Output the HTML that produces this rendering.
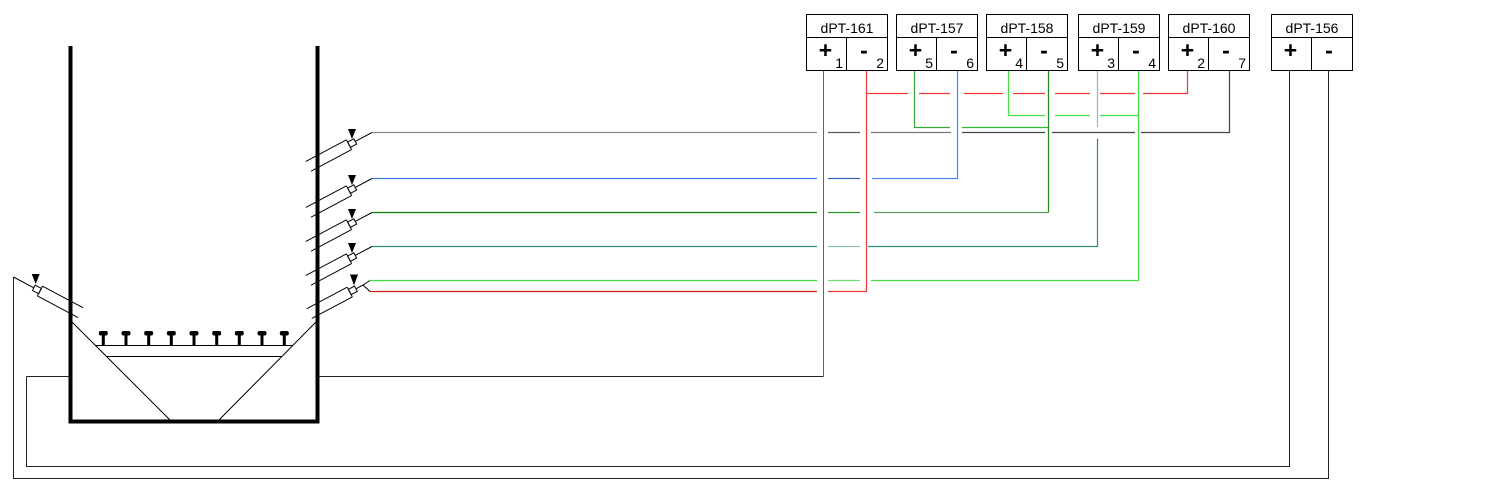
<!DOCTYPE html>
<html><head><meta charset="utf-8"><style>
html,body{margin:0;padding:0;background:#fff;}
svg{display:block;}
text{font-family:"Liberation Sans",Arial,sans-serif;fill:#000;}
</style></head><body>
<svg width="1508" height="501" viewBox="0 0 1508 501" xmlns="http://www.w3.org/2000/svg">
<defs>
 <g id="rs" stroke="#000" stroke-width="1" fill="none">
  <line x1="0" y1="0" x2="19" y2="0"/>
  <rect x="19" y="-3" width="7" height="6" fill="#fff"/>
  <line x1="26" y1="-5.5" x2="26" y2="5.5"/>
  <line x1="26" y1="5.5" x2="72" y2="5.5"/>
  <line x1="26" y1="-5.5" x2="72" y2="-5.5"/>
 </g>
 <g id="ls" stroke="#000" stroke-width="1" fill="none">
  <line x1="0" y1="0" x2="23" y2="0"/>
  <rect x="23" y="-3" width="7" height="6" fill="#fff"/>
  <line x1="30" y1="-5.5" x2="30" y2="5.5"/>
  <line x1="30" y1="5.5" x2="76" y2="5.5"/>
  <line x1="30" y1="-5.5" x2="76" y2="-5.5"/>
 </g>
 <g id="s5" stroke="#000" stroke-width="1" fill="none">
  <line x1="0" y1="0" x2="8" y2="0"/>
  <rect x="8" y="-3" width="7" height="6" fill="#fff"/>
  <line x1="15" y1="-5.5" x2="15" y2="5.5"/>
  <line x1="15" y1="5.5" x2="61" y2="5.5"/>
  <line x1="15" y1="-5.5" x2="61" y2="-5.5"/>
 </g>
</defs>

<!-- vessel -->
<rect x="68.5" y="46" width="4" height="377" fill="#000"/>
<rect x="315.5" y="46" width="4" height="377" fill="#000"/>
<rect x="68.5" y="419.5" width="251" height="4" fill="#000"/>
<g stroke="#000" stroke-width="1" fill="none">
 <line x1="72" y1="322" x2="171" y2="421"/>
 <line x1="316" y1="322" x2="218" y2="421"/>
 <line x1="96" y1="345.5" x2="293" y2="345.5"/>
 <line x1="106" y1="356.5" x2="282" y2="356.5"/>
</g>
<!-- nozzles -->
<g fill="#000">
 <rect x="98.8" y="331" width="9" height="4.5" rx="2"/><rect x="101.8" y="334" width="3" height="12"/>
 <rect x="121.5" y="331" width="9" height="4.5" rx="2"/><rect x="124.5" y="334" width="3" height="12"/>
 <rect x="144.2" y="331" width="9" height="4.5" rx="2"/><rect x="147.2" y="334" width="3" height="12"/>
 <rect x="166.8" y="331" width="9" height="4.5" rx="2"/><rect x="169.8" y="334" width="3" height="12"/>
 <rect x="189.5" y="331" width="9" height="4.5" rx="2"/><rect x="192.5" y="334" width="3" height="12"/>
 <rect x="212.2" y="331" width="9" height="4.5" rx="2"/><rect x="215.2" y="334" width="3" height="12"/>
 <rect x="234.8" y="331" width="9" height="4.5" rx="2"/><rect x="237.8" y="334" width="3" height="12"/>
 <rect x="257.5" y="331" width="9" height="4.5" rx="2"/><rect x="260.5" y="334" width="3" height="12"/>
 <rect x="279.8" y="331" width="9" height="4.5" rx="2"/><rect x="282.8" y="334" width="3" height="12"/>
</g>

<!-- sensors -->
<use href="#rs" transform="translate(372,132.5) rotate(152)"/>
<use href="#rs" transform="translate(372,178.5) rotate(152)"/>
<use href="#rs" transform="translate(372,212.5) rotate(152)"/>
<use href="#rs" transform="translate(372,246.5) rotate(152)"/>
<use href="#s5" transform="translate(363,285) rotate(152)"/>
<use href="#ls" transform="translate(13.5,277) rotate(28) scale(1,-1)"/>
<g stroke="#000" stroke-width="1">
 <line x1="363" y1="285" x2="370" y2="280.5"/>
 <line x1="363" y1="285" x2="370" y2="291.5"/>
</g>
<g fill="#000">
 <polygon points="348,129 356,129 352,139"/>
 <polygon points="348,175 356,175 352,185"/>
 <polygon points="348,209 356,209 352,219"/>
 <polygon points="348,243 356,243 352,253"/>
 <polygon points="350,274.5 358,274.5 354,285.5"/>
 <polygon points="31.7,274 39.7,274 35.7,284"/>
</g>

<!-- loops -->
<g stroke="#222" stroke-width="1" fill="none">
 <polyline points="13.5,277 13.5,478.5 1328.5,478.5 1328.5,70.5"/>
 <line x1="26.5" y1="376.5" x2="68.5" y2="376.5"/>
 <polyline points="26.5,376.5 26.5,466.5 1289.5,466.5 1289.5,70.5"/>
 <line x1="319.5" y1="376.5" x2="823.5" y2="376.5"/>
</g>
<line x1="823.5" y1="376.5" x2="823.5" y2="70.5" stroke="#666" stroke-width="1"/>

<g stroke-width="1.25" fill="none">
 <!-- gray wire -->
 <line x1="372" y1="132.5" x2="817" y2="132.5" stroke="#888"/>
 <line x1="828" y1="132.5" x2="860" y2="132.5" stroke="#555"/>
 <line x1="871" y1="132.5" x2="951" y2="132.5" stroke="#777"/>
 <line x1="962" y1="132.5" x2="1045" y2="132.5" stroke="#444"/>
 <line x1="1052" y1="132.5" x2="1135" y2="132.5" stroke="#444"/>
 <polyline points="1141,132.5 1229.5,132.5 1229.5,70.5" stroke="#444"/>
 <!-- blue -->
 <line x1="372" y1="178.5" x2="817" y2="178.5" stroke="#3f78e6"/>
 <line x1="828" y1="178.5" x2="860" y2="178.5" stroke="#3a62c0"/>
 <polyline points="872,178.5 957.5,178.5 957.5,70.5" stroke="#4f84ee"/>
 <!-- dark green -->
 <line x1="372" y1="212.5" x2="817" y2="212.5" stroke="#0b7d0b"/>
 <line x1="828" y1="212.5" x2="860" y2="212.5" stroke="#2f9a2f"/>
 <line x1="874" y1="212.5" x2="1048.5" y2="212.5" stroke="#5f9a5f"/>
 <line x1="1048.5" y1="212.5" x2="1048.5" y2="70.5" stroke="#1f8a1f"/>
 <!-- teal -->
 <line x1="372" y1="246.5" x2="817" y2="246.5" stroke="#2f8f7c"/>
 <line x1="828" y1="246.5" x2="860" y2="246.5" stroke="#8fc0b4"/>
 <polyline points="868,246.5 1097.5,246.5 1097.5,138.5" stroke="#2f8f78"/>
 <line x1="1097.5" y1="127" x2="1097.5" y2="70.5" stroke="#80c8b4"/>
 <!-- light green -->
 <line x1="370" y1="280.5" x2="817" y2="280.5" stroke="#3ddd3d"/>
 <line x1="828" y1="280.5" x2="860" y2="280.5" stroke="#6ee06e"/>
 <polyline points="871,280.5 1138.5,280.5 1138.5,70.5" stroke="#44dd44"/>
 <!-- red -->
 <line x1="370" y1="291.5" x2="817" y2="291.5" stroke="#cc1a1a"/>
 <polyline points="828,291.5 866.5,291.5 866.5,70.5" stroke="#ee3c3c"/>
 <!-- red dashed -->
 <g stroke="#ee3c3c">
  <line x1="866.5" y1="93.5" x2="908" y2="93.5"/>
  <line x1="919" y1="93.5" x2="950" y2="93.5"/>
  <line x1="964" y1="93.5" x2="1003" y2="93.5"/>
  <line x1="1013" y1="93.5" x2="1045" y2="93.5"/>
  <line x1="1055" y1="93.5" x2="1090" y2="93.5"/>
  <line x1="1100" y1="93.5" x2="1135" y2="93.5"/>
  <polyline points="1143,93.5 1187.5,93.5 1187.5,70.5"/>
 </g>
 <!-- green 157+ -->
 <polyline points="914.5,70.5 914.5,127.5 950,127.5" stroke="#3aa83a"/>
 <line x1="962" y1="127.5" x2="1048.5" y2="127.5" stroke="#2cc02c"/>
 <!-- light green 158+ -->
 <g stroke="#44dd44">
  <polyline points="1008.5,70.5 1008.5,115.5 1045,115.5"/>
  <line x1="1055" y1="115.5" x2="1090" y2="115.5"/>
  <line x1="1100" y1="115.5" x2="1138.5" y2="115.5"/>
 </g>
</g>

<!-- boxes -->
<g stroke="#000" stroke-width="1" fill="#fff">
 <rect x="806.5" y="14.5" width="81" height="56"/>
 <rect x="896.5" y="14.5" width="81" height="56"/>
 <rect x="986.5" y="14.5" width="81" height="56"/>
 <rect x="1078.5" y="14.5" width="81" height="56"/>
 <rect x="1168.5" y="14.5" width="81" height="56"/>
 <rect x="1271.5" y="14.5" width="81" height="56"/>
</g>
<g stroke="#000" stroke-width="1">
 <line x1="806.5" y1="37.5" x2="887.5" y2="37.5"/><line x1="846.5" y1="37.5" x2="846.5" y2="70.5"/>
 <line x1="896.5" y1="37.5" x2="977.5" y2="37.5"/><line x1="936.5" y1="37.5" x2="936.5" y2="70.5"/>
 <line x1="986.5" y1="37.5" x2="1067.5" y2="37.5"/><line x1="1026.5" y1="37.5" x2="1026.5" y2="70.5"/>
 <line x1="1078.5" y1="37.5" x2="1159.5" y2="37.5"/><line x1="1118.5" y1="37.5" x2="1118.5" y2="70.5"/>
 <line x1="1168.5" y1="37.5" x2="1249.5" y2="37.5"/><line x1="1208.5" y1="37.5" x2="1208.5" y2="70.5"/>
 <line x1="1271.5" y1="37.5" x2="1352.5" y2="37.5"/><line x1="1311.5" y1="37.5" x2="1311.5" y2="70.5"/>
</g>
<g font-size="14" text-anchor="middle">
 <text x="847" y="33">dPT-161</text>
 <text x="937" y="33">dPT-157</text>
 <text x="1027" y="33">dPT-158</text>
 <text x="1119" y="33">dPT-159</text>
 <text x="1209" y="33">dPT-160</text>
 <text x="1312" y="33">dPT-156</text>
</g>
<g font-size="23" font-weight="bold" text-anchor="middle">
 <text x="825.5" y="58">+</text><text x="864" y="58">-</text>
 <text x="915.5" y="58">+</text><text x="954" y="58">-</text>
 <text x="1005.5" y="58">+</text><text x="1044" y="58">-</text>
 <text x="1097.5" y="58">+</text><text x="1136" y="58">-</text>
 <text x="1187.5" y="58">+</text><text x="1226" y="58">-</text>
 <text x="1290.5" y="58">+</text><text x="1329" y="58">-</text>
</g>
<g font-size="14" text-anchor="end">
 <text x="843" y="68">1</text><text x="884" y="68">2</text>
 <text x="933" y="68">5</text><text x="974" y="68">6</text>
 <text x="1023" y="68">4</text><text x="1064" y="68">5</text>
 <text x="1115" y="68">3</text><text x="1156" y="68">4</text>
 <text x="1205" y="68">2</text><text x="1246" y="68">7</text>
</g>
</svg>
</body></html>
